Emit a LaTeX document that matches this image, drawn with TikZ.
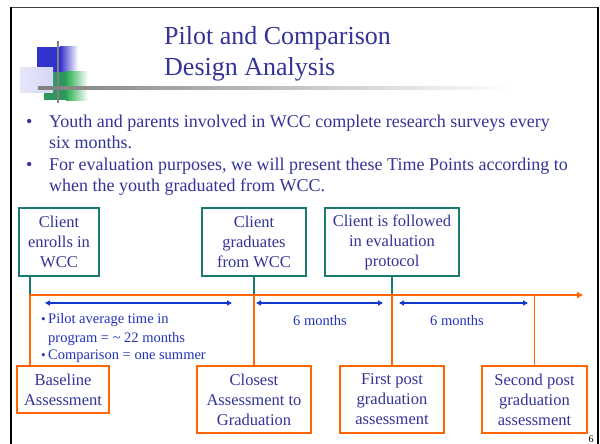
\documentclass[tikz,border=0pt]{standalone}
\usepackage{fontspec}
\setmainfont{Liberation Serif}
\usetikzlibrary{arrows.meta}
\definecolor{txtblue}{RGB}{51,51,153}
\definecolor{brblue}{RGB}{34,51,187}
\definecolor{arrblue}{RGB}{16,56,204}
\definecolor{tealc}{RGB}{26,122,112}
\definecolor{orangec}{RGB}{255,102,0}
\definecolor{logoblue}{RGB}{51,51,204}
\definecolor{logogreen}{RGB}{46,150,94}
\definecolor{lavender}{RGB}{214,214,246}
\tikzset{
  tbox/.style={draw=tealc, line width=1.4pt, inner sep=0pt, align=center, text=txtblue, font=\fontsize{16.5}{20}\selectfont},
  obox/.style={draw=orangec, line width=1.4pt, inner sep=0pt, align=center, text=txtblue, font=\fontsize{16.5}{20}\selectfont},
  tline/.style={draw=tealc, line width=1.4pt},
  oline/.style={draw=orangec, line width=1.4pt},
  barr/.style={draw=arrblue, line width=1.3pt, {Triangle[length=5pt,width=5pt]}-{Triangle[length=5pt,width=5pt]}},
  mainline/.style={anchor=base west, text=txtblue, font=\fontsize{18}{21}\selectfont, inner sep=0pt},
  smallline/.style={anchor=base west, text=brblue, font=\fontsize{14.5}{18}\selectfont, inner sep=0pt},
  titleline/.style={anchor=base west, text=txtblue, font=\fontsize{26}{30}\selectfont, inner sep=0pt}
}
\begin{document}
\begin{tikzpicture}[x=1pt,y=-1pt]
\useasboundingbox (0,0) rectangle (600,444);
\fill[white] (0,0) rectangle (600,444);
% frame
\draw[black!75, line width=1.5pt] (10,7.5) -- (598,7.5);
\draw[black, line width=2.5pt] (11,7) -- (11,444);
\draw[black, line width=2pt] (597.5,7) -- (597.5,444);
% logo
\fill[logoblue] (37,47) rectangle (60,72);
\shade[left color=logoblue, right color=white] (60,47) rectangle (78,72);
\fill[logogreen] (44,72) rectangle (66,100);
\shade[left color=logogreen!80!green, right color=white] (66,72) rectangle (88,100);
\shade[left color=lavender!60, right color=lavender] (20,68) rectangle (53,93);
\shade[left color=black!50, right color=white] (38,87) rectangle (513,89.5);
\draw[black!50, line width=1.5pt] (58,41) -- (58,103);
% title
\node[titleline] (t1) at (164,45) {Pilot and Comparison};
\node[titleline] (t2) at (164,75) {Design Analysis};
% bullets
\node[mainline] (bu1) at (26,127) {•};
\node[mainline] (l1) at (49,127) {Youth and parents involved in WCC complete research surveys every};
\node[mainline] (l2) at (49,148) {six months.};
\node[mainline] (bu2) at (26,170) {•};
\node[mainline] (l3) at (49,170) {For evaluation purposes, we will present these Time Points according to};
\node[mainline] (l4) at (49,191) {when the youth graduated from WCC.};
% top boxes
\node[tbox, minimum width=80pt, minimum height=68pt] (b1) at (59,242) {Client\\enrolls in\\WCC};
\node[tbox, minimum width=104pt, minimum height=68pt] (b2) at (254,242) {Client\\graduates\\from WCC};
\node[tbox, minimum width=134pt, minimum height=68pt] (b3) at (392,242) {Client is followed\\in evaluation\\protocol};
% bottom boxes
\node[obox, minimum width=92pt, minimum height=47pt] (o1) at (63,389.5) {Baseline\\Assessment};
\node[obox, minimum width=114pt, minimum height=67pt] (o2) at (254,399.5) {Closest\\Assessment to\\Graduation};
\node[obox, minimum width=104pt, minimum height=67pt] (o3) at (392,399.5) {First post\\graduation\\assessment};
\node[obox, minimum width=105pt, minimum height=67pt] (o4) at (534.5,399.5) {Second post\\graduation\\assessment};
% timeline
\coordinate (h0) at (30,295);
\coordinate (hend) at (583,295);
\coordinate (h4) at (534.5,295);
\draw[tline] (h0 |- b1.south) -- (h0);
\draw[tline] (b2.south) -- (b2.south |- h0);
\draw[tline] (b3.south) -- (b3.south |- h0);
\draw[oline, -{Triangle[length=6pt,width=6pt]}] (h0) -- (hend);
\draw[oline] (h0) -- (h0 |- o1.north);
\draw[oline] (o2.north |- h0) -- (o2.north);
\draw[oline] (o3.north |- h0) -- (o3.north);
\draw[oline] (h4) -- (o4.north);
% blue arrows
\coordinate (a1s) at (45,303);
\coordinate (a1e) at (232,303);
\coordinate (a2s) at (256,303);
\coordinate (a2e) at (383,303);
\coordinate (a3s) at (399,303);
\coordinate (a3e) at (528,303);
\draw[barr] (a1s) -- (a1e);
\draw[barr] (a2s) -- (a2e);
\draw[barr] (a3s) -- (a3e);
% small texts
\node[smallline, font=\fontsize{13}{18}\selectfont] (sb1) at (41,323) {•};
\node[smallline] (s1) at (48,323) {Pilot average time in};
\node[smallline] (s2) at (48,342) {program = \textasciitilde{} 22 months};
\node[smallline, font=\fontsize{13}{18}\selectfont] (sb2) at (41,359) {•};
\node[smallline] (s3) at (48,359) {Comparison = one summer};
\node[anchor=base, text=brblue, font=\fontsize{14.5}{18}\selectfont, inner sep=0pt] (m1) at (320,325) {6 months};
\node[anchor=base, text=brblue, font=\fontsize{14.5}{18}\selectfont, inner sep=0pt] (m2) at (457,325) {6 months};
% page number
\node[anchor=base, font=\fontsize{10}{12}\selectfont, inner sep=0pt] (pn) at (591,442) {6};
\end{tikzpicture}
\end{document}
